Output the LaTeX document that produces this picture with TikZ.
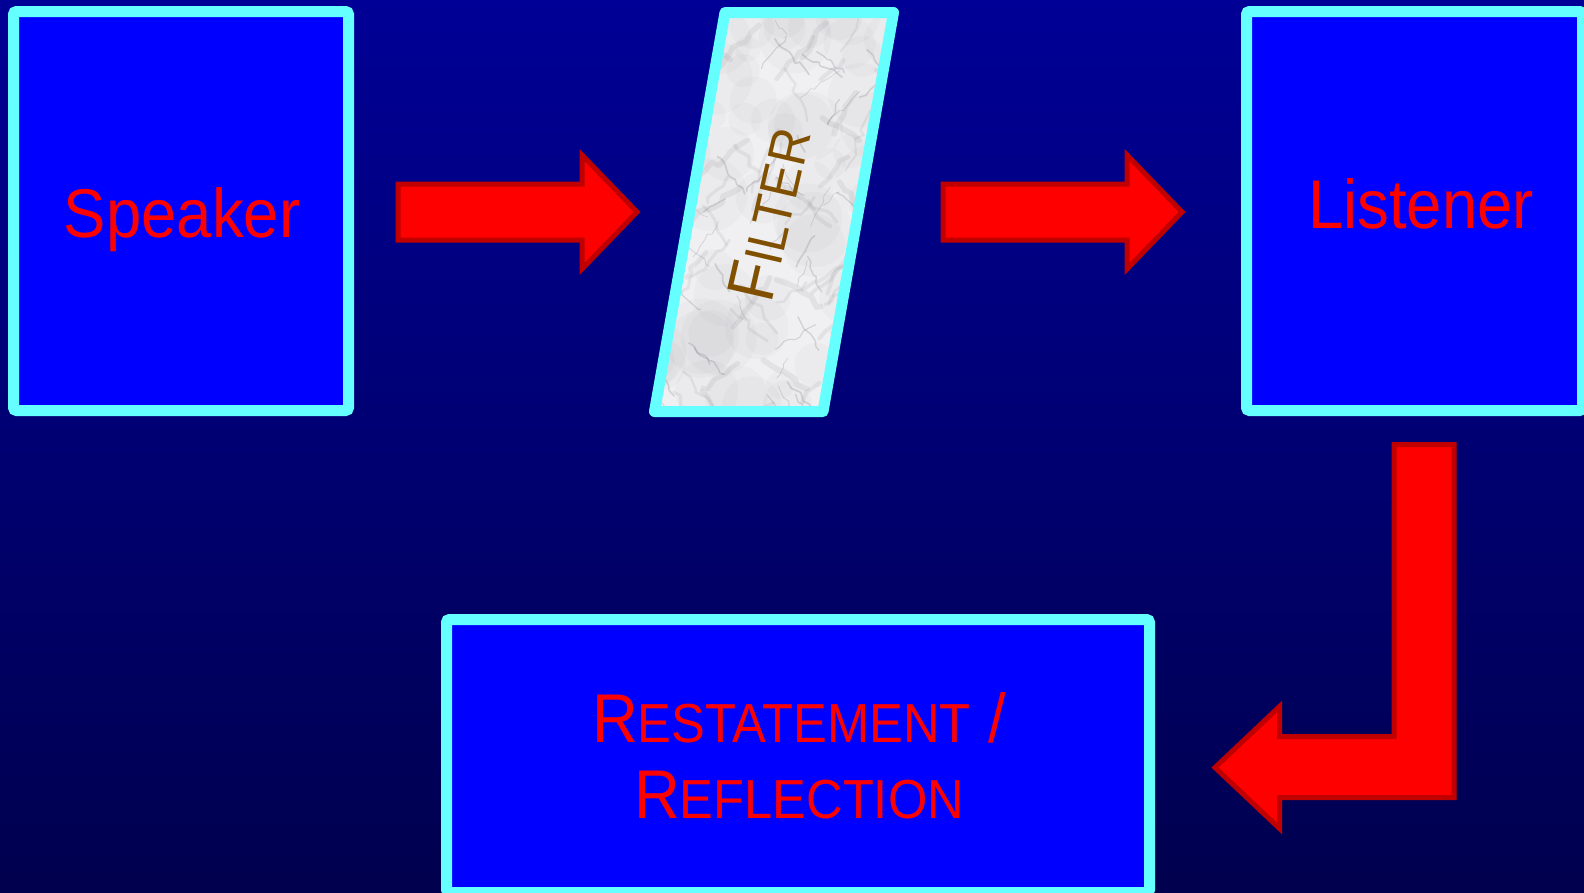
\documentclass[tikz,border=0pt]{standalone}
\usepackage{fontspec}
\setmainfont[FakeStretch=0.92]{Liberation Sans}
\usetikzlibrary{decorations.pathmorphing}

\definecolor{bgtop}{RGB}{0,0,150}
\definecolor{bgbot}{RGB}{0,0,78}
\definecolor{boxblue}{RGB}{0,0,255}
\definecolor{rim}{RGB}{102,255,255}
\definecolor{arrowfill}{RGB}{255,0,0}
\definecolor{arrowrim}{RGB}{192,0,0}
\definecolor{labelred}{RGB}{255,0,0}
\definecolor{filterbrown}{RGB}{128,80,0}
\definecolor{marble}{RGB}{240,240,242}
\definecolor{veingray}{RGB}{110,110,118}

% fake small capitals: large initial, smaller remainder
\newcommand\bigsmall[4]{{\fontsize{#1}{76}\selectfont #3}{\fontsize{#2}{76}\selectfont #4}}

\tikzset{
  panel/.style={draw=rim, fill=boxblue, line width=11pt, rounded corners=3pt, inner sep=0pt},
  blockarrow/.style={fill=arrowfill, draw=arrowrim, line width=5pt, line join=miter},
  boxtext/.style={text=labelred, inner sep=0pt, font=\fontsize{69}{76}\selectfont},
  softvein/.style={draw=veingray, line cap=round, line join=round, opacity=0.10,
    decorate, decoration={random steps, segment length=9pt, amplitude=4pt}},
  thinvein/.style={draw=veingray, line cap=round, line join=round, opacity=0.22,
    decorate, decoration={random steps, segment length=6pt, amplitude=2.5pt}},
}

\begin{document}
\begin{tikzpicture}[x=1pt, y=-1pt]
  \useasboundingbox (0,0) rectangle (1584,892);
  % backdrop
  \shade[top color=bgtop, bottom color=bgbot] (0,0) rectangle (1584,892);

  % the three panels
  \node[panel, minimum width=335pt, minimum height=399pt] (spk) at (181,211) {};
  \node[panel, minimum width=336pt, minimum height=399pt] (lst) at (1414.5,211) {};
  \node[panel, minimum width=703pt, minimum height=273pt] (rst) at (798,756) {};

  % the slanted marble filter
  \coordinate (f1) at (725,12.5);
  \coordinate (f2) at (893.5,12.5);
  \coordinate (f3) at (823,411.5);
  \coordinate (f4) at (654.5,411.5);
  \fill[marble] (f1) -- (f2) -- (f3) -- (f4) -- cycle;
  \begin{scope}
    \clip (f1) -- (f2) -- (f3) -- (f4) -- cycle;
    \pgfmathsetseed{23}
    % cloudy grey patches
    \foreach \i in {1,...,70}{
      \pgfmathsetmacro\xa{650+rnd*245}
      \pgfmathsetmacro\ya{12+rnd*400}
      \pgfmathsetmacro\rr{12+rnd*26}
      \fill[veingray, opacity=0.035] (\xa,\ya) circle[radius=\rr];
    }
    % broad soft veins
    \foreach \i in {1,...,60}{
      \pgfmathsetmacro\xa{650+rnd*245}
      \pgfmathsetmacro\ya{12+rnd*400}
      \pgfmathsetmacro\ang{(rnd<0.5 ? 30+rnd*40 : 110+rnd*40)}
      \pgfmathsetmacro\len{25+rnd*50}
      \pgfmathsetmacro\lw{2+rnd*4}
      \draw[softvein, line width=\lw pt] (\xa,\ya) -- ++(\ang:\len);
    }
    % fine darker veins
    \foreach \i in {1,...,55}{
      \pgfmathsetmacro\xa{650+rnd*245}
      \pgfmathsetmacro\ya{12+rnd*400}
      \pgfmathsetmacro\ang{(rnd<0.5 ? 30+rnd*40 : 110+rnd*40)}
      \pgfmathsetmacro\len{15+rnd*35}
      \pgfmathsetmacro\lw{0.6+rnd*1.2}
      \draw[thinvein, line width=\lw pt] (\xa,\ya) -- ++(\ang:\len);
    }
  \end{scope}
  \draw[rim, line width=11pt, line join=round] (f1) -- (f2) -- (f3) -- (f4) -- cycle;

  % block arrows
  \coordinate (a1) at (398,212);
  \coordinate (a2) at (943,212);
  \coordinate (a3) at (1394,444.5);
  \draw[blockarrow] (a1) ++(0,-28) -- ++(184,0) -- ++(0,-29) -- ++(55,57)
    -- ++(-55,57) -- ++(0,-29) -- ++(-184,0) -- cycle;
  \draw[blockarrow] (a2) ++(0,-28) -- ++(184,0) -- ++(0,-29) -- ++(55,57)
    -- ++(-55,57) -- ++(0,-29) -- ++(-184,0) -- cycle;
  \draw[blockarrow] (a3) -- ++(60,0) -- ++(0,353) -- ++(-174.5,0) -- ++(0,31)
    -- ++(-64.5,-61) -- ++(64.5,-61) -- ++(0,30) -- ++(114.5,0) -- cycle;

  % labels
  \node[boxtext, anchor=base] (spkt) at (182,237) {Speaker};
  \node[boxtext, anchor=base] (lstt) at (1421,228) {Listener};
  \node[boxtext, align=center] (rstt) at (799,755.5)
    {\bigsmall{69}{55}{R}{ESTATEMENT} {\fontsize{69}{76}\selectfont /}\\
     \bigsmall{69}{55}{R}{EFLECTION}};
  \node[text=filterbrown, inner sep=0pt, rotate=77] (flt) at (769,214)
    {\bigsmall{67}{54}{F}{ILTER}};
\end{tikzpicture}
\end{document}
